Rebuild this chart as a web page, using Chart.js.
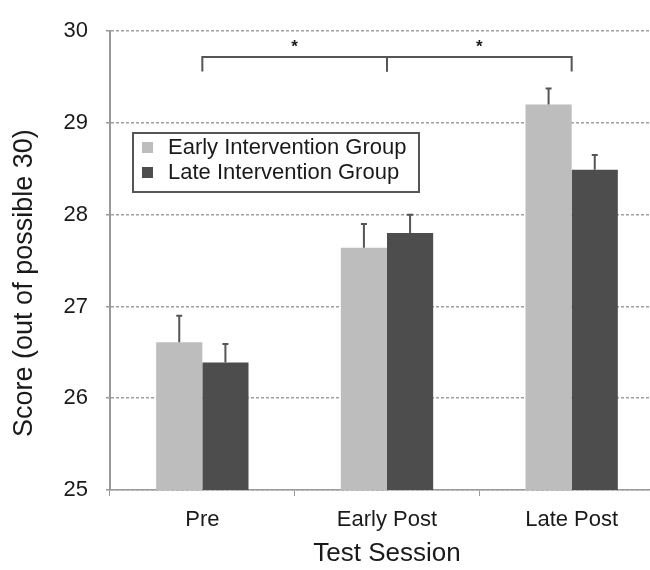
<!DOCTYPE html>
<html>
<head>
<meta charset="utf-8">
<script src="https://cdn.jsdelivr.net/npm/chart.js@4/dist/chart.umd.min.js"></script>
<style>
html,body{margin:0;padding:0;background:#fff;overflow:hidden;}
canvas{display:block;}
</style>
</head>
<body>
<canvas id="c" width="664" height="570"></canvas>
<script>
const categories = ['Pre', 'Early Post', 'Late Post'];
const seriesNames = ['Early Intervention Group', 'Late Intervention Group'];
const earlyGroup = [26.61, 27.64, 29.20];
const lateGroup = [26.39, 27.80, 28.49];
const earlyErr = [0.29, 0.26, 0.175];
const lateErr = [0.20, 0.20, 0.16];
const yTicks = [25, 26, 27, 28, 29, 30];
const bracketPairs = [[0, 1], [1, 2]];
const bracketLabels = ['*', '*'];
const bracketLevel = 29.72;
const bracketDrop = 29.56;
const starLevel = 29.86;

const FONT = "'Liberation Sans', Arial, sans-serif";
const INK = '#1a1a1a';
const LINE = '#555';

const errorBars = {
  id: 'errorBars',
  afterDatasetsDraw(chart) {
    const ctx = chart.ctx, y = chart.scales.y;
    chart.data.datasets.forEach((ds, di) => {
      const meta = chart.getDatasetMeta(di);
      meta.data.forEach((bar, i) => {
        const v = ds.data[i], e = ds.errors[i];
        const yTop = y.getPixelForValue(v + e);
        const yBase = y.getPixelForValue(v);
        ctx.save();
        ctx.strokeStyle = LINE;
        ctx.lineWidth = 2;
        ctx.beginPath();
        ctx.moveTo(bar.x, yBase);
        ctx.lineTo(bar.x, yTop);
        ctx.moveTo(bar.x - 3, yTop);
        ctx.lineTo(bar.x + 3, yTop);
        ctx.stroke();
        ctx.restore();
      });
    });
  }
};

const brackets = {
  id: 'brackets',
  afterDatasetsDraw(chart) {
    const ctx = chart.ctx, x = chart.scales.x, y = chart.scales.y;
    const yl = y.getPixelForValue(bracketLevel);
    const yd = y.getPixelForValue(bracketDrop);
    const ys = y.getPixelForValue(starLevel);
    ctx.save();
    ctx.strokeStyle = LINE;
    ctx.lineWidth = 2;
    bracketPairs.forEach((p, k) => {
      const x0 = x.getPixelForValue(p[0]);
      const x1 = x.getPixelForValue(p[1]);
      ctx.beginPath();
      ctx.moveTo(x0, yd);
      ctx.lineTo(x0, yl);
      ctx.lineTo(x1, yl);
      ctx.lineTo(x1, yd);
      ctx.stroke();
      ctx.fillStyle = INK;
      ctx.font = 'bold 17px ' + FONT;
      ctx.textAlign = 'center';
      ctx.textBaseline = 'middle';
      ctx.fillText(bracketLabels[k], (x0 + x1) / 2, ys + 3);
    });
    ctx.restore();
  }
};

const boxLegend = {
  id: 'boxLegend',
  afterDraw(chart) {
    const o = chart.options.plugins.boxLegend;
    const ctx = chart.ctx;
    ctx.save();
    ctx.strokeStyle = LINE;
    ctx.lineWidth = 2;
    ctx.fillStyle = '#fff';
    ctx.fillRect(o.left, o.top, o.width, o.height);
    ctx.strokeRect(o.left, o.top, o.width, o.height);
    ctx.font = '22px ' + FONT;
    ctx.textBaseline = 'middle';
    ctx.textAlign = 'left';
    chart.data.datasets.forEach((ds, i) => {
      const cy = o.top + o.firstRow + i * o.rowGap;
      ctx.fillStyle = ds.backgroundColor;
      ctx.fillRect(o.left + 9, cy - 6, 11, 11);
      ctx.fillStyle = INK;
      ctx.fillText(ds.label, o.left + 35, cy);
    });
    ctx.restore();
  }
};

new Chart(document.getElementById('c'), {
  type: 'bar',
  data: {
    labels: categories,
    datasets: [
      { label: seriesNames[0], data: earlyGroup, errors: earlyErr, backgroundColor: '#bdbdbd' },
      { label: seriesNames[1], data: lateGroup, errors: lateErr, backgroundColor: '#4d4d4d' }
    ]
  },
  options: {
    responsive: false,
    animation: false,
    layout: { padding: { top: 26, left: 0, right: 0, bottom: 0 } },
    datasets: { bar: { categoryPercentage: 0.5, barPercentage: 1.0 } },
    plugins: {
      legend: { display: false },
      tooltip: { enabled: false },
      boxLegend: { left: 133, top: 133, width: 286, height: 59, firstRow: 15, rowGap: 25 }
    },
    scales: {
      x: {
        afterFit(s) { s.height = 80; },
        grid: { display: true, drawOnChartArea: false, drawTicks: true, tickLength: 6, color: '#999', offset: true },
        border: { display: true, color: '#999', width: 1.5 },
        ticks: { color: INK, font: { family: FONT, size: 22 }, padding: 11 },
        title: { display: true, text: 'Test Session', color: INK, font: { family: FONT, size: 26, lineHeight: 1 }, padding: { top: 0, bottom: 3 } }
      },
      y: {
        min: 25, max: 30,
        afterFit(s) { s.width = 110; },
        afterBuildTicks(s) { s.ticks = yTicks.map(v => ({ value: v })); },
        grid: { color: '#a0a0a0', lineWidth: 1.5, tickLength: 4, tickColor: '#999', tickBorderDash: [] },
        border: { display: true, color: '#999', width: 2, dash: [3, 2] },
        ticks: { color: INK, font: { family: FONT, size: 22 }, padding: 18 },
        title: { display: true, text: 'Score (out of possible 30)      ', color: INK, font: { family: FONT, size: 27, lineHeight: 1 }, padding: { top: 11, bottom: 0 } }
      }
    }
  },
  plugins: [errorBars, brackets, boxLegend]
});
</script>
</body>
</html>
